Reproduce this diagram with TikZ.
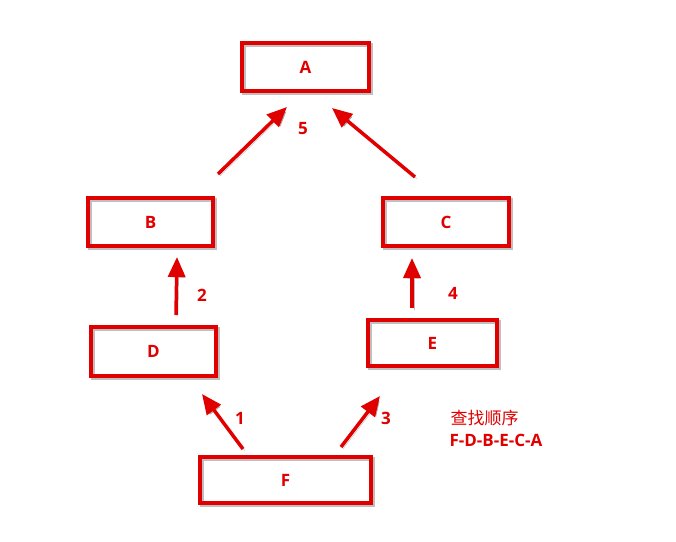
\documentclass[tikz,border=0pt]{standalone}
\usepackage{fontspec}
\setmainfont{Open Sans}
\newfontfamily\cjkfont{Noto Sans CJK SC}
\usepackage{tikz}
\usetikzlibrary{arrows.meta}
\definecolor{boxred}{RGB}{224, 0, 0}

\tikzset{
    keybox/.style={draw=boxred, line width=4pt, inner sep=0pt, outer sep=0pt,
        text=boxred, font=\fontsize{17}{19}\selectfont\bfseries,
        preaction={draw=black, opacity=.25, line width=4pt, transform canvas={shift={(2pt,-2pt)}}}},
    flow/.style={draw=boxred, line width=3.5pt,
        -{Triangle[length=20pt, width=17pt]},
        preaction={draw=black, opacity=.25, transform canvas={shift={(2pt,-2pt)}}}},
    steplabel/.style={text=boxred, font=\fontsize{17}{19}\selectfont\bfseries}
}

\begin{document}
\begin{tikzpicture}[x=1pt, y=-1pt]
    \useasboundingbox (0,0) rectangle (676,541);

    % boxes
    \node[keybox, minimum width=127pt, minimum height=48pt] (a) at (305.5,67) {A};
    \node[keybox, minimum width=125pt, minimum height=48pt] (b) at (150.5,222) {B};
    \node[keybox, minimum width=126pt, minimum height=48pt] (c) at (446,222) {C};
    \node[keybox, minimum width=125pt, minimum height=49pt] (d) at (153.5,351.5) {D};
    \node[keybox, minimum width=129pt, minimum height=46pt] (e) at (432.5,343) {E};
    \node[keybox, minimum width=171pt, minimum height=46pt] (f) at (285.5,480) {F};

    % arrow ends
    \coordinate (fd0) at (243,449);  \coordinate (fd1) at (202,394);
    \coordinate (db0) at (176,315);  \coordinate (db1) at (177,257);
    \coordinate (fe0) at (341,447);  \coordinate (fe1) at (380,396);
    \coordinate (ec0) at (412,308);  \coordinate (ec1) at (412,258);
    \coordinate (ba0) at (218,174);  \coordinate (ba1) at (287,107);
    \coordinate (ca0) at (415,177);  \coordinate (ca1) at (332,108);

    \draw[flow] (fd0) -- (fd1);
    \draw[flow] (db0) -- (db1);
    \draw[flow] (fe0) -- (fe1);
    \draw[flow] (ec0) -- (ec1);
    \draw[flow] (ba0) -- (ba1);
    \draw[flow] (ca0) -- (ca1);

    % step numbers
    \node[steplabel] (n1) at (240,418) {1};
    \node[steplabel] (n2) at (202,295) {2};
    \node[steplabel] (n3) at (386,418) {3};
    \node[steplabel] (n4) at (453,293) {4};
    \node[steplabel] (n5) at (303,129) {5};

    % order
    \node[text=boxred, font=\cjkfont\fontsize{17}{19}\selectfont, anchor=west] (order) at (447,418) {查找顺序};
    \node[steplabel, anchor=west] (seq) at (446,440) {F-D-B-E-C-A};
\end{tikzpicture}
\end{document}
